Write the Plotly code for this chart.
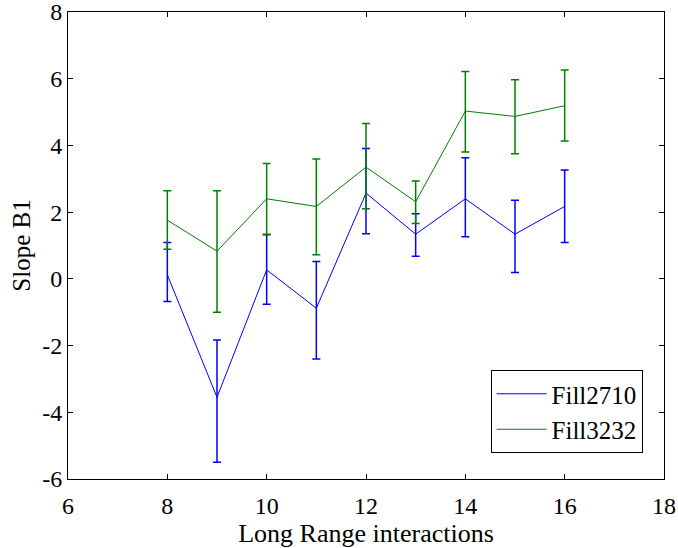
import plotly.graph_objects as go

x_vals = [8, 9, 10, 11, 12, 13, 14, 15, 16]

fill2710_y = [0.12, -3.55, 0.27, -0.88, 2.57, 1.34, 2.40, 1.34, 2.17]
fill2710_hi = [1.09, -1.83, 1.32, 0.52, 3.91, 1.95, 3.63, 2.36, 3.26]
fill2710_lo = [-0.68, -5.50, -0.76, -2.40, 1.35, 0.68, 1.26, 0.19, 1.09]

fill3232_y = [1.76, 0.83, 2.40, 2.17, 3.35, 2.31, 5.03, 4.87, 5.19]
fill3232_hi = [2.64, 2.64, 3.46, 3.59, 4.66, 2.93, 6.22, 5.97, 6.26]
fill3232_lo = [0.89, -1.00, 1.34, 0.72, 2.10, 1.66, 3.80, 3.75, 4.13]

x_ticks = [6, 8, 10, 12, 14, 16, 18]
y_ticks = [-6, -4, -2, 0, 2, 4, 6, 8]
y_tick_labels = ["-6", "-4", "-2", "0", "2", "4", "6", "8"]

FONT = "Liberation Serif"


def trace(name, y, hi, lo, color):
    plus = [h - v for h, v in zip(hi, y)]
    minus = [v - l for v, l in zip(y, lo)]
    return go.Scatter(
        x=x_vals, y=y, name=name, mode="lines",
        line=dict(color=color, width=1),
        error_y=dict(type="data", symmetric=False, array=plus, arrayminus=minus,
                     color=color, thickness=1.5, width=4),
    )


fig = go.Figure()
fig.add_trace(trace("Fill2710", fill2710_y, fill2710_hi, fill2710_lo, "#0000ff"))
fig.add_trace(trace("Fill3232", fill3232_y, fill3232_hi, fill3232_lo, "#008000"))

axis_common = dict(
    showgrid=False, zeroline=False, showline=True, linecolor="#000000", linewidth=1,
    ticks="inside", ticklen=5, tickcolor="#000000", mirror="ticks", automargin=False,
    ticklabeloverflow="allow",
    tickfont=dict(family=FONT, size=24, color="#000000"),
)

fig.update_layout(
    width=678, height=548,
    margin=dict(l=68, r=14, t=12, b=69),
    paper_bgcolor="white", plot_bgcolor="white",
    font=dict(family=FONT, color="#000000"),
    xaxis=dict(range=[6, 18], tickvals=x_ticks, ticklabelstandoff=5, **axis_common,
               title=dict(text="Long Range interactions", font=dict(family=FONT, size=26), standoff=8)),
    yaxis=dict(range=[-6, 8], tickvals=y_ticks, ticktext=y_tick_labels, **axis_common,
               title=dict(text="Slope B1", font=dict(family=FONT, size=25), standoff=4)),
    legend=dict(x=0.709, y=0.2334, xanchor="left", yanchor="top",
                bgcolor="white", bordercolor="#000000", borderwidth=1,
                font=dict(family=FONT, size=25), itemwidth=50),
    showlegend=True,
)

fig.write_html(
    "out.html",
    config={"displayModeBar": False},
    post_script="document.body.style.margin='0';document.body.style.overflow='hidden';"
                "document.documentElement.style.overflow='hidden';",
)
